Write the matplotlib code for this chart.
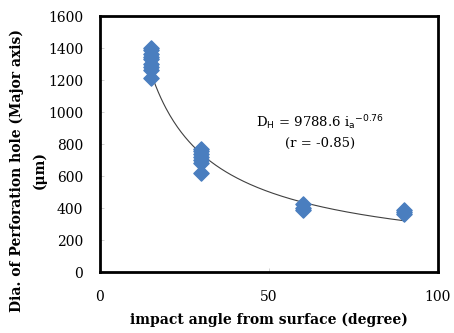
import numpy as np
from matplotlib import pyplot as plt

angle = [15, 15, 15, 15, 15, 15, 15, 15, 15,
         30, 30, 30, 30, 30, 30, 30,
         60, 60, 60,
         90, 90, 90]
diameter = [1400, 1385, 1365, 1345, 1330, 1300, 1280, 1260, 1210,
            770, 755, 740, 720, 700, 680, 620,
            425, 400, 390,
            385, 375, 365]
coef = 9788.6
power = -0.76

plt.rcParams['font.family'] = ['DejaVu Serif']

fig = plt.figure(figsize=(4.54, 3.33), dpi=100)
ax = fig.add_axes([100 / 454, 61 / 333, 338 / 454, 256 / 333])

fit_x = np.linspace(15, 90, 200)
ax.plot(fit_x, coef * fit_x ** power, color='#404040', linewidth=0.8)
ax.scatter(angle, diameter, marker='D', s=60, color='#4a7ebf', zorder=3)

ax.set_xlim(0, 100)
ax.set_ylim(0, 1600)
ax.set_xticks([0, 50, 100])
ax.set_yticks(range(0, 1601, 200))
ax.tick_params(direction='in', length=3, width=0.5, color='#c0c0c0', labelsize=10)
ax.tick_params(axis='x', pad=13)
ax.tick_params(axis='y', pad=12)
for s in ax.spines.values():
    s.set_linewidth(2)

ax.set_xlabel('impact angle from surface (degree)', fontsize=10, fontweight='bold', labelpad=6)
fig.text(28 / 454, 1 - 170 / 333, 'Dia. of Perforation hole (Major axis)\n(μm)',
         rotation=90, ha='center', va='center', fontsize=10, fontweight='bold',
         linespacing=1.7, multialignment='center')

ax.text(65, 935, r'D$_{\rm H}$ = 9788.6 i$_{\rm a}$$^{-0.76}$', ha='center', va='center', fontsize=9.5)
ax.text(65, 805, '(r = -0.85)', ha='center', va='center', fontsize=9.5)

fig.savefig('out.png', dpi=100)
